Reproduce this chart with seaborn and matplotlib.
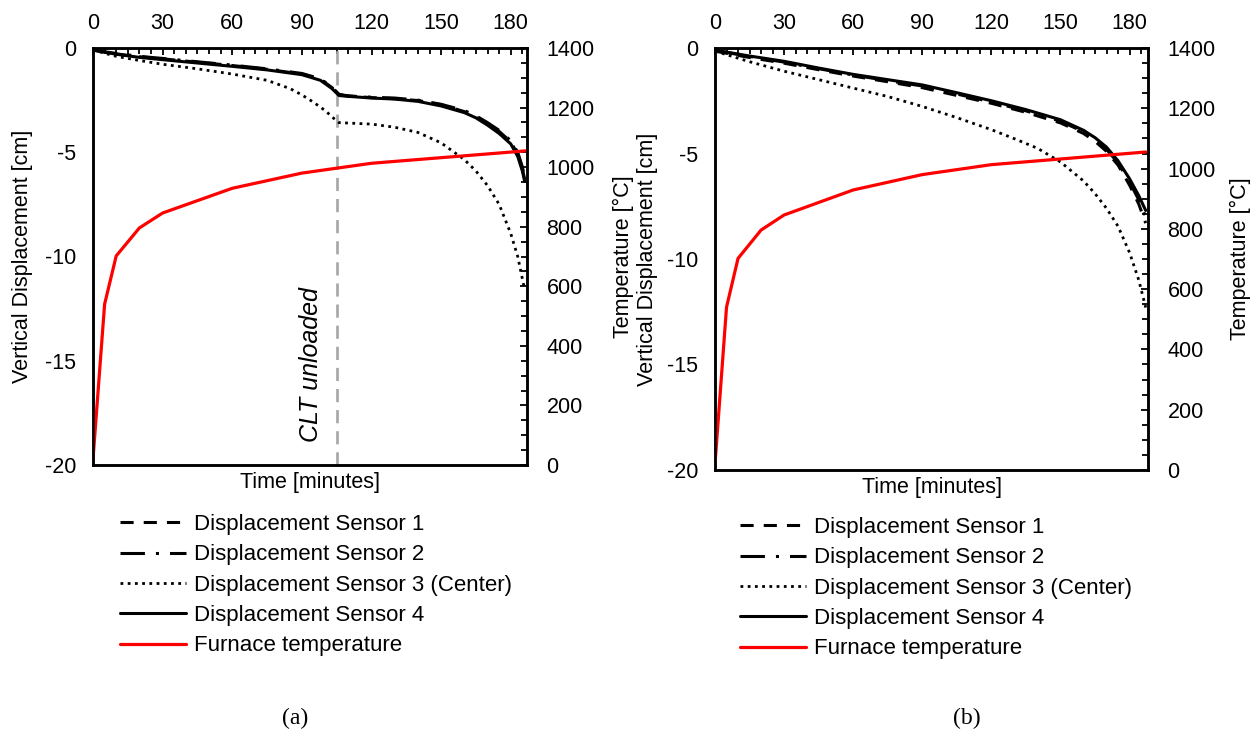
import matplotlib
matplotlib.use("Agg")
import matplotlib.pyplot as plt
import seaborn as sns
import numpy as np
from matplotlib.ticker import MultipleLocator

sns.set_theme(style="white")
plt.rcParams['font.family'] = ['Liberation Sans', 'DejaVu Sans']
plt.rcParams['axes.unicode_minus'] = False
for k in ['text.color', 'axes.labelcolor', 'xtick.color', 'ytick.color']:
    plt.rcParams[k] = 'black'

# ---------------- data ----------------
# Furnace temperature (same for both tests)
temp_time = [0, 5, 10, 20, 30, 60, 90, 120, 187]
temp_vals = [20, 540, 702, 796, 846, 929, 980, 1013, 1055]

# Test (a)
a_time_124 = [0, 10, 20, 30, 45, 60, 75, 90, 98, 103, 106, 110, 120, 130, 140, 150, 160, 165, 170, 175, 180, 183, 185, 186]
a_s1 = [-0.1, -0.28, -0.42, -0.52, -0.68, -0.84, -1.02, -1.25, -1.5, -1.9, -2.25, -2.3, -2.38, -2.43, -2.52, -2.72, -3.05, -3.3, -3.62, -4.0, -4.5, -5.1, -5.8, -6.3]
a_s2 = [-0.1, -0.26, -0.4, -0.5, -0.66, -0.82, -1.0, -1.22, -1.48, -1.88, -2.22, -2.3, -2.36, -2.4, -2.5, -2.7, -3.0, -3.25, -3.58, -3.95, -4.45, -5.0, -5.7, -6.2]
a_s4 = [-0.1, -0.3, -0.45, -0.56, -0.72, -0.88, -1.05, -1.28, -1.55, -1.95, -2.28, -2.32, -2.4, -2.45, -2.56, -2.78, -3.1, -3.35, -3.7, -4.1, -4.6, -5.2, -5.9, -6.4]
a_time_3 = [0, 10, 20, 30, 45, 60, 75, 85, 90, 95, 100, 104, 106, 110, 120, 130, 140, 150, 160, 165, 170, 175, 180, 183, 186]
a_s3 = [-0.1, -0.4, -0.6, -0.78, -1.0, -1.25, -1.55, -1.95, -2.25, -2.6, -3.0, -3.4, -3.58, -3.6, -3.65, -3.8, -4.05, -4.55, -5.35, -5.9, -6.6, -7.5, -8.9, -10.0, -11.6]
unload_time = 105

# Test (b)
b_time_124 = [0, 15, 30, 45, 60, 75, 90, 105, 120, 135, 150, 160, 165, 170, 175, 180, 184, 187]
b_s1 = [-0.15, -0.45, -0.72, -1.03, -1.33, -1.6, -1.88, -2.25, -2.62, -3.05, -3.55, -4.05, -4.42, -4.9, -5.55, -6.5, -7.4, -8.3]
b_s2 = [-0.12, -0.4, -0.67, -0.98, -1.28, -1.55, -1.8, -2.18, -2.56, -2.98, -3.47, -3.97, -4.33, -4.8, -5.45, -6.35, -7.2, -8.0]
b_s4 = [-0.1, -0.38, -0.63, -0.95, -1.25, -1.5, -1.75, -2.12, -2.5, -2.92, -3.4, -3.9, -4.25, -4.7, -5.35, -6.2, -7.0, -7.7]
b_time_3 = [0, 15, 30, 45, 60, 75, 90, 105, 120, 130, 140, 150, 160, 165, 170, 175, 180, 184, 187]
b_s3 = [-0.15, -0.65, -1.1, -1.5, -1.9, -2.3, -2.77, -3.3, -3.87, -4.3, -4.75, -5.4, -6.3, -6.9, -7.6, -8.45, -9.7, -11.0, -12.3]

labels = ["Displacement Sensor 1", "Displacement Sensor 2",
          "Displacement Sensor 3 (Center)", "Displacement Sensor 4",
          "Furnace temperature"]
x_ticks = [0, 30, 60, 90, 120, 150, 180]
disp_ticks = [0, -5, -10, -15, -20]
temp_ticks = [0, 200, 400, 600, 800, 1000, 1200, 1400]

# ---------------- styling ----------------
FS = 15.5
FS_LEG = 16
LW = 2.2
styles = [
    dict(linestyle=(0, (4.3, 3.3)), lw=LW),
    dict(linestyle=(0, (8, 3.6, 1, 3.6)), lw=LW),
    dict(linestyle=(0, (1, 1.6)), lw=2.0),
    dict(linestyle='-', lw=LW),
]

fig = plt.figure(figsize=(12.6, 7.4), dpi=100)


def panel(rect, t124, s1, s2, s4, t3, s3, xmax, lab_left_x, lab_right_x, legend_anchor, unload=None):
    ax = fig.add_axes(rect)
    ax2 = ax.twinx()
    series = [(t124, s1), (t124, s2), (t3, s3), (t124, s4)]
    for (tt, vv), st, lab in zip(series, styles, labels[:4]):
        sns.lineplot(x=tt, y=vv, ax=ax, color='black', label=lab, **st)
    if ax.get_legend() is not None:
        ax.get_legend().remove()
    sns.lineplot(x=temp_time, y=temp_vals, ax=ax2, color='#ff0000', lw=2.3, label=labels[4])
    if ax2.get_legend() is not None:
        ax2.get_legend().remove()
    if unload is not None:
        ax.axvline(unload, color='#a6a6a6', lw=1.9, linestyle=(0, (5, 3)), zorder=1)
        ax.text(unload - 11, -15.2, "CLT unloaded", rotation=90, style='italic',
                fontsize=18, ha='center', va='center', color='black')

    ax.set_xlim(0, xmax)
    ax.set_ylim(-20, 0)
    ax2.set_ylim(0, 1400)
    ax.set_xticks(x_ticks)
    ax.xaxis.set_minor_locator(MultipleLocator(5))
    ax.set_yticks(disp_ticks)
    ax2.set_yticks(temp_ticks)
    ax2.yaxis.set_minor_locator(MultipleLocator(50))

    ax.xaxis.tick_top()
    ax.xaxis.set_label_position('bottom')
    ax.tick_params(axis='x', which='both', direction='in', top=True, bottom=False,
                   labeltop=True, labelbottom=False, labelsize=FS, pad=10,
                   width=1.3, color='black')
    ax.tick_params(axis='x', which='major', length=5)
    ax.tick_params(axis='x', which='minor', length=4)
    ax.tick_params(axis='y', which='both', left=False, length=0, labelsize=FS, pad=12)
    ax2.tick_params(axis='y', which='both', direction='in', right=True, labelsize=FS,
                    pad=14, width=1.3, color='black')
    ax2.tick_params(axis='y', which='major', length=5)
    ax2.tick_params(axis='y', which='minor', length=4)

    for a in (ax, ax2):
        for sp in a.spines.values():
            sp.set_color('black')
            sp.set_linewidth(1.8)
            sp.set_visible(True)

    ax.set_xlabel("Time [minutes]", fontsize=FS, labelpad=5)
    ax.set_ylabel("Vertical Displacement [cm]", fontsize=FS)
    ax2.set_ylabel("Temperature [°C]", fontsize=FS)
    ax.yaxis.set_label_coords(lab_left_x, 0.5)
    ax.yaxis.label.set_va('center')
    ax2.yaxis.set_label_coords(lab_right_x, 0.5)
    ax2.yaxis.label.set_va('center')
    ax2.yaxis.label.set_rotation(90)

    h1, l1 = ax.get_legend_handles_labels()
    h2, l2 = ax2.get_legend_handles_labels()
    fig.legend(h1 + h2, l1 + l2, loc='upper left', bbox_to_anchor=legend_anchor,
               frameon=False, fontsize=FS_LEG, handlelength=2.95, handletextpad=0.4,
               labelspacing=0.42, borderpad=0, borderaxespad=0)
    return ax, ax2


W, H = 1260, 740
panel([93 / W, 1 - 465 / H, 434 / W, 417 / H], a_time_124, a_s1, a_s2, a_s4, a_time_3, a_s3,
      187, (23 - 93) / 434, (623 - 93) / 434, (120 / W, 1 - 514 / H), unload=unload_time)
panel([715 / W, 1 - 470 / H, 433 / W, 422 / H], b_time_124, b_s1, b_s2, b_s4, b_time_3, b_s3,
      188, (647 - 715) / 433, (1240 - 715) / 433, (740 / W, 1 - 517 / H))

fig.text(295 / W, 1 - 718 / H, "(a)", fontsize=17, family=['Liberation Serif'], ha='center', va='center')
fig.text(967 / W, 1 - 718 / H, "(b)", fontsize=17, family=['Liberation Serif'], ha='center', va='center')

fig.savefig("out.png", dpi=100)
